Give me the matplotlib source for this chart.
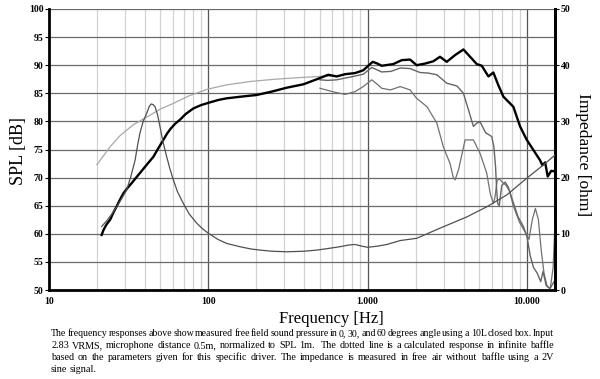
import matplotlib
matplotlib.use("Agg")
import matplotlib.pyplot as plt
from matplotlib.ticker import FixedLocator, NullFormatter

# frequency response 0 degrees (thick black)
f_0deg = [21.4, 22, 23, 24.2, 25.3, 26.5, 27.8, 29.3, 31, 33, 35, 37.2, 40, 42.5, 45.2, 48.5,
          52.2, 55, 58, 62, 66.4, 72, 80.5, 90, 100, 115, 130, 160, 201, 250, 311, 395, 480,
          566, 639, 722, 834, 940, 1000, 1076, 1150, 1225, 1449, 1637, 1846, 2032, 2300, 2585,
          2846, 3138, 3539, 3993, 4396, 4842, 5205, 5730, 6155, 6600, 7115, 8220, 9055, 9980,
          10980, 12080, 12500, 13010, 13500, 14210, 15000]
spl_0deg = [59.8, 60.7, 61.7, 62.5, 63.7, 64.8, 66.0, 67.2, 68.1, 69.0, 69.9, 70.8, 71.9, 72.8,
            73.7, 75.2, 76.7, 77.8, 78.7, 79.6, 80.3, 81.3, 82.3, 82.9, 83.3, 83.8, 84.1, 84.4,
            84.7, 85.3, 86.0, 86.6, 87.5, 88.3, 88.0, 88.4, 88.6, 89.1, 89.8, 90.6, 90.3, 89.9,
            90.2, 90.9, 91.0, 90.0, 90.3, 90.7, 91.5, 90.6, 91.8, 92.8, 91.5, 90.2, 89.9, 88.0,
            88.7, 86.5, 84.4, 82.6, 79.1, 76.7, 74.9, 73.1, 72.2, 72.7, 70.2, 71.2, 71.1]

# 30 degrees
f_30deg = [502, 560, 639, 720, 813, 940, 1061, 1225, 1400, 1603, 1846, 2133, 2400, 2719, 3138,
           3640, 3993, 4300, 4614, 4842, 5081, 5500, 6010, 6200, 6350, 6450, 6550, 6700, 6950,
           7300, 7640, 8000, 8800, 9500, 10000, 10500, 11000, 11600, 12200, 12620, 13200, 14000,
           15000]
spl_30deg = [87.4, 87.3, 87.4, 87.7, 88.0, 88.4, 89.6, 88.8, 88.9, 89.5, 89.4, 88.7, 88.6, 88.3,
             86.8, 86.3, 85.0, 82.0, 79.1, 79.7, 79.9, 78.0, 77.3, 75.5, 72.0, 68.0, 65.4, 65.0,
             68.6, 69.2, 68.3, 66.5, 63.0, 61.3, 59.5, 56.0, 54.0, 53.0, 51.5, 53.3, 50.8, 50.3,
             51.8]

# 60 degrees
f_60deg = [502, 600, 722, 834, 940, 1061, 1150, 1225, 1390, 1603, 1846, 2032, 2360, 2719, 2985,
           3290, 3450, 3540, 3720, 4090, 4614, 5080, 5590, 5900, 6155, 6300, 6500, 6700, 7000,
           7400, 7800, 8200, 9000, 9980, 10300, 10800, 11300, 11800, 12300, 12800, 13400, 14000,
           14600, 15000]
spl_60deg = [85.9, 85.3, 84.8, 85.3, 86.2, 87.4, 86.6, 85.9, 85.6, 86.2, 85.6, 84.1, 82.6, 79.7,
             75.5, 72.5, 70.0, 69.6, 71.4, 76.7, 76.7, 74.3, 70.8, 67.0, 65.4, 66.5, 69.5, 69.8,
             69.2, 68.6, 67.5, 65.0, 62.0, 59.8, 59.0, 62.5, 64.5, 62.5, 57.0, 53.0, 50.6, 50.2,
             54.0, 62.0]

# calculated infinite baffle response (light gray)
f_calc = [20, 22, 24.2, 28, 33.8, 43, 50, 60.3, 75, 98, 130, 183, 260, 377, 502, 620]
spl_calc = [72.3, 73.9, 75.5, 77.5, 79.4, 81.1, 82.2, 83.2, 84.5, 85.7, 86.5, 87.1, 87.5, 87.8,
            88.0, 88.1]

# impedance [ohm]
f_imp = [21.4, 23, 24.5, 26.6, 28.5, 30.7, 32.5, 34.7, 36, 37.2, 39, 41, 42.5, 43.7, 45, 46.3,
         48, 49.7, 52, 54.8, 57.5, 60.3, 64, 69.7, 76, 84.5, 92, 100, 115, 130, 158, 185, 211,
         250, 311, 400, 479, 570, 670, 760, 834, 920, 1000, 1150, 1320, 1603, 2032, 2846, 4190,
         5590, 7460, 9980, 12620, 15000]
imp = [11.3, 12.3, 13.3, 14.8, 16.2, 17.8, 20.0, 23.1, 25.8, 27.9, 30.0, 31.4, 32.6, 33.1, 33.0,
       32.6, 31.2, 29.1, 26.3, 23.7, 21.5, 19.6, 17.5, 15.4, 13.5, 11.9, 10.9, 10.1, 9.0, 8.3,
       7.7, 7.3, 7.1, 6.9, 6.8, 6.9, 7.1, 7.4, 7.7, 8.0, 8.1, 7.8, 7.6, 7.8, 8.1, 8.8, 9.2, 11.0,
       13.0, 14.8, 16.9, 19.9, 22.2, 24.0]

x_ticks = [10, 100, 1000, 10000]
x_labels = ["10", "100", "1.000", "10.000"]

caption = [
    "The frequency responses above show measured free field sound pressure in 0, 30, and 60 degrees angle using a 10L closed box. Input",
    "2.83 VRMS, microphone distance 0.5m, normalized to SPL 1m.  The dotted line is a calculated response in infinite baffle",
    "based on the parameters given for this specific driver. The impedance is measured in free air without baffle using a 2V",
    "sine signal.",
]

serif = "Liberation Serif"

fig = plt.figure(figsize=(6, 3.79), dpi=100)
ax = fig.add_axes([49 / 600, 1 - 290 / 379, 506 / 600, 281 / 379])
ax.set_xscale("log")
ax.set_xlim(10, 15000)
ax.set_ylim(50, 100)

# grid
minor = [m * d for d in (10, 100, 1000) for m in range(2, 10)]
for xm in minor:
    ax.axvline(xm, color="#d2d2d2", lw=0.9, zorder=0)
for xM in x_ticks[1:]:
    ax.axvline(xM, color="#555555", lw=0.9, zorder=0)
for yv in range(55, 101, 5):
    ax.axhline(yv, color="#6a6a6a", lw=0.9, zorder=0)

ax.plot(f_calc, spl_calc, color="#a8a8a8", lw=0.9, zorder=2)
ax.plot(f_60deg, spl_60deg, color="#707070", lw=0.9, zorder=3)
ax.plot(f_30deg, spl_30deg, color="#656565", lw=1.0, zorder=3)
ax.plot(f_0deg, spl_0deg, color="black", lw=1.7, zorder=5)

ax.xaxis.set_major_locator(FixedLocator(x_ticks))
ax.xaxis.set_minor_formatter(NullFormatter())
ax.set_xticklabels(x_labels)
ax.tick_params(axis="x", which="both", length=0, pad=5)
ax.set_yticks(range(50, 101, 5))
ax.tick_params(axis="y", length=3, width=0.8, pad=1)
for lab in ax.get_xticklabels() + ax.get_yticklabels():
    lab.set_fontfamily(serif)
    lab.set_fontweight("bold")
    lab.set_fontsize(7)

ax.spines["top"].set_visible(False)
ax.spines["left"].set_linewidth(2)
ax.spines["bottom"].set_linewidth(2)
ax.spines["right"].set_linewidth(2)

ax2 = ax.twinx()
ax2.set_ylim(0, 50)
ax2.plot(f_imp, imp, color="#505050", lw=0.9, zorder=4)
ax2.set_yticks(range(0, 51, 10))
ax2.tick_params(axis="y", length=3, width=0.8, pad=1)
for lab in ax2.get_yticklabels():
    lab.set_fontfamily(serif)
    lab.set_fontweight("bold")
    lab.set_fontsize(7)
for s in ("top", "left", "bottom"):
    ax2.spines[s].set_visible(False)
ax2.spines["right"].set_linewidth(2)

fig.text(18 / 600, 1 - 151 / 379, "SPL [dB]", rotation=90, ha="center", va="center",
         fontsize=13, family=serif)
fig.text(583 / 600, 1 - 155 / 379, "Impedance [ohm]", rotation=-90, ha="center", va="center",
         fontsize=12.5, family=serif)
fig.text(331 / 600, 1 - 319 / 379, "Frequency [Hz]", ha="center", va="center",
         fontsize=12, family=serif)

# justified caption
renderer = fig.canvas.get_renderer()
x0, x1 = 51, 554
for i, line in enumerate(caption):
    y = 1 - (336 + 12 * i) / 379
    words = line.split(" ")
    size = 7.3
    while True:
        texts = [fig.text(0, y, w, fontsize=size, family=serif, va="baseline") for w in words]
        widths = [t.get_window_extent(renderer).width for t in texts]
        if i == len(caption) - 1 or sum(widths) + 0.8 * (len(words) - 1) <= x1 - x0:
            break
        for t in texts:
            t.remove()
        size -= 0.2
    if i == len(caption) - 1:
        gap = size * 100 / 72 * 0.25
    else:
        gap = (x1 - x0 - sum(widths)) / (len(words) - 1)
    xp = x0
    for t, w in zip(texts, widths):
        t.set_x(xp / 600)
        xp += w + gap

fig.savefig("out.png", dpi=100)
